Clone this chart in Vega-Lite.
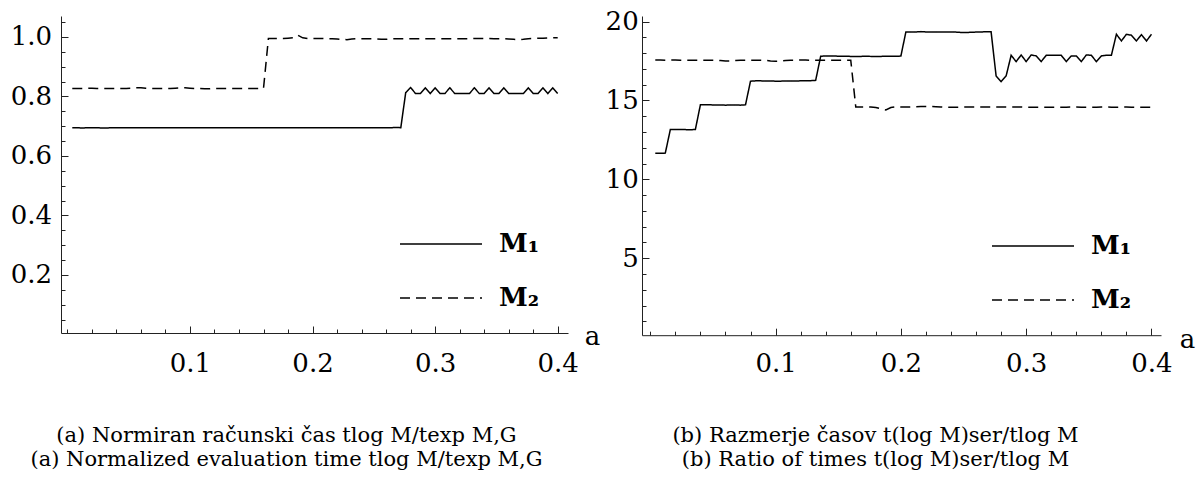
{
  "$schema": "https://vega.github.io/schema/vega-lite/v6.json",
  "background": "white",
  "padding": {"left": 10, "top": 8, "right": 2, "bottom": 2},
  "bounds": "flush",
  "spacing": 74,
  "config": {
    "view": {"stroke": null},
    "font": "DejaVu Serif",
    "axis": {
      "grid": false,
      "domainColor": "#222",
      "domainWidth": 1,
      "tickColor": "#222",
      "tickWidth": 1,
      "labelColor": "#000",
      "labelFont": "DejaVu Serif",
      "labelFontSize": 26,
      "labelFlush": false,
      "labelOverlap": false,
      "labelBound": false,
      "titleFont": "DejaVu Serif",
      "titleFontSize": 26,
      "titleFontWeight": "normal",
      "titleColor": "#000"
    },
    "legend": {
      "orient": "none",
      "title": null,
      "symbolType": "stroke",
      "symbolSize": 6724,
      "symbolStrokeWidth": 1.5,
      "symbolStrokeColor": "#000",
      "labelFont": "DejaVu Serif",
      "labelFontWeight": "bold",
      "labelFontSize": 26,
      "labelColor": "#000",
      "labelOffset": 16,
      "clipHeight": 30,
      "rowPadding": 24,
      "padding": 0
    },
    "title": {"font": "DejaVu Serif", "fontWeight": "normal", "fontSize": 21, "color": "#000"}
  },
  "resolve": {"scale": {"strokeDash": "independent"}, "legend": {"strokeDash": "independent"}},
  "datasets": {
    "left": [
      {"a":0.004,"M₁":0.695,"M₂":0.827},{"a":0.008,"M₁":0.695,"M₂":0.827},{"a":0.012,"M₁":0.694,"M₂":0.827},{"a":0.016,"M₁":0.695,"M₂":0.827},{"a":0.020,"M₁":0.695,"M₂":0.828},
      {"a":0.024,"M₁":0.695,"M₂":0.827},{"a":0.028,"M₁":0.694,"M₂":0.827},{"a":0.032,"M₁":0.694,"M₂":0.827},{"a":0.036,"M₁":0.695,"M₂":0.827},{"a":0.040,"M₁":0.695,"M₂":0.827},
      {"a":0.044,"M₁":0.695,"M₂":0.827},{"a":0.048,"M₁":0.695,"M₂":0.827},{"a":0.052,"M₁":0.695,"M₂":0.828},{"a":0.056,"M₁":0.695,"M₂":0.829},{"a":0.060,"M₁":0.695,"M₂":0.829},
      {"a":0.064,"M₁":0.695,"M₂":0.828},{"a":0.068,"M₁":0.695,"M₂":0.827},{"a":0.072,"M₁":0.695,"M₂":0.827},{"a":0.076,"M₁":0.695,"M₂":0.827},{"a":0.080,"M₁":0.695,"M₂":0.827},
      {"a":0.084,"M₁":0.695,"M₂":0.827},{"a":0.088,"M₁":0.695,"M₂":0.828},{"a":0.092,"M₁":0.695,"M₂":0.829},{"a":0.096,"M₁":0.695,"M₂":0.829},{"a":0.100,"M₁":0.695,"M₂":0.828},
      {"a":0.104,"M₁":0.695,"M₂":0.827},{"a":0.108,"M₁":0.695,"M₂":0.827},{"a":0.112,"M₁":0.695,"M₂":0.826},{"a":0.116,"M₁":0.695,"M₂":0.826},{"a":0.120,"M₁":0.695,"M₂":0.827},
      {"a":0.124,"M₁":0.695,"M₂":0.827},{"a":0.128,"M₁":0.695,"M₂":0.827},{"a":0.132,"M₁":0.695,"M₂":0.827},{"a":0.136,"M₁":0.695,"M₂":0.827},{"a":0.140,"M₁":0.695,"M₂":0.827},
      {"a":0.144,"M₁":0.695,"M₂":0.827},{"a":0.148,"M₁":0.695,"M₂":0.827},{"a":0.152,"M₁":0.695,"M₂":0.827},{"a":0.156,"M₁":0.695,"M₂":0.827},{"a":0.160,"M₁":0.695,"M₂":0.827},
      {"a":0.164,"M₁":0.695,"M₂":0.995},{"a":0.168,"M₁":0.695,"M₂":0.995},{"a":0.172,"M₁":0.695,"M₂":0.995},{"a":0.176,"M₁":0.695,"M₂":0.995},{"a":0.180,"M₁":0.695,"M₂":0.996},
      {"a":0.184,"M₁":0.695,"M₂":0.997},{"a":0.188,"M₁":0.695,"M₂":1.006},{"a":0.192,"M₁":0.695,"M₂":0.997},{"a":0.196,"M₁":0.695,"M₂":0.995},{"a":0.200,"M₁":0.695,"M₂":0.995},
      {"a":0.204,"M₁":0.695,"M₂":0.995},{"a":0.208,"M₁":0.695,"M₂":0.995},{"a":0.212,"M₁":0.695,"M₂":0.994},{"a":0.216,"M₁":0.695,"M₂":0.994},{"a":0.220,"M₁":0.695,"M₂":0.993},
      {"a":0.224,"M₁":0.695,"M₂":0.992},{"a":0.228,"M₁":0.695,"M₂":0.991},{"a":0.232,"M₁":0.695,"M₂":0.993},{"a":0.236,"M₁":0.695,"M₂":0.994},{"a":0.240,"M₁":0.695,"M₂":0.994},
      {"a":0.244,"M₁":0.695,"M₂":0.994},{"a":0.248,"M₁":0.695,"M₂":0.994},{"a":0.252,"M₁":0.695,"M₂":0.993},{"a":0.256,"M₁":0.695,"M₂":0.992},{"a":0.260,"M₁":0.695,"M₂":0.992},
      {"a":0.264,"M₁":0.695,"M₂":0.994},{"a":0.268,"M₁":0.696,"M₂":0.994},{"a":0.272,"M₁":0.695,"M₂":0.994},{"a":0.276,"M₁":0.813,"M₂":0.994},{"a":0.280,"M₁":0.830,"M₂":0.994},
      {"a":0.284,"M₁":0.810,"M₂":0.994},{"a":0.288,"M₁":0.810,"M₂":0.994},{"a":0.292,"M₁":0.829,"M₂":0.994},{"a":0.296,"M₁":0.810,"M₂":0.994},{"a":0.300,"M₁":0.829,"M₂":0.994},
      {"a":0.304,"M₁":0.810,"M₂":0.994},{"a":0.308,"M₁":0.810,"M₂":0.994},{"a":0.312,"M₁":0.829,"M₂":0.994},{"a":0.316,"M₁":0.810,"M₂":0.994},{"a":0.320,"M₁":0.810,"M₂":0.994},
      {"a":0.324,"M₁":0.810,"M₂":0.994},{"a":0.328,"M₁":0.810,"M₂":0.994},{"a":0.332,"M₁":0.829,"M₂":0.995},{"a":0.336,"M₁":0.810,"M₂":0.995},{"a":0.340,"M₁":0.810,"M₂":0.995},
      {"a":0.344,"M₁":0.829,"M₂":0.995},{"a":0.348,"M₁":0.810,"M₂":0.994},{"a":0.352,"M₁":0.810,"M₂":0.994},{"a":0.356,"M₁":0.829,"M₂":0.994},{"a":0.360,"M₁":0.810,"M₂":0.993},
      {"a":0.364,"M₁":0.810,"M₂":0.992},{"a":0.368,"M₁":0.810,"M₂":0.991},{"a":0.372,"M₁":0.810,"M₂":0.992},{"a":0.376,"M₁":0.829,"M₂":0.994},{"a":0.380,"M₁":0.810,"M₂":0.995},
      {"a":0.384,"M₁":0.810,"M₂":0.996},{"a":0.388,"M₁":0.829,"M₂":0.996},{"a":0.392,"M₁":0.810,"M₂":0.997},{"a":0.396,"M₁":0.829,"M₂":0.997},{"a":0.400,"M₁":0.810,"M₂":0.997}
    ],
    "right": [
      {"a":0.004,"M₁":11.65,"M₂":17.56},{"a":0.008,"M₁":11.65,"M₂":17.56},{"a":0.012,"M₁":11.66,"M₂":17.55},{"a":0.016,"M₁":13.15,"M₂":17.56},{"a":0.020,"M₁":13.16,"M₂":17.56},
      {"a":0.024,"M₁":13.15,"M₂":17.55},{"a":0.028,"M₁":13.15,"M₂":17.55},{"a":0.032,"M₁":13.14,"M₂":17.55},{"a":0.036,"M₁":13.16,"M₂":17.55},{"a":0.040,"M₁":14.72,"M₂":17.55},
      {"a":0.044,"M₁":14.73,"M₂":17.55},{"a":0.048,"M₁":14.72,"M₂":17.55},{"a":0.052,"M₁":14.71,"M₂":17.55},{"a":0.056,"M₁":14.71,"M₂":17.53},{"a":0.060,"M₁":14.70,"M₂":17.50},
      {"a":0.064,"M₁":14.71,"M₂":17.50},{"a":0.068,"M₁":14.71,"M₂":17.53},{"a":0.072,"M₁":14.70,"M₂":17.54},{"a":0.076,"M₁":14.72,"M₂":17.55},{"a":0.080,"M₁":16.22,"M₂":17.55},
      {"a":0.084,"M₁":16.24,"M₂":17.55},{"a":0.088,"M₁":16.24,"M₂":17.55},{"a":0.092,"M₁":16.23,"M₂":17.54},{"a":0.096,"M₁":16.23,"M₂":17.50},{"a":0.100,"M₁":16.22,"M₂":17.48},
      {"a":0.104,"M₁":16.22,"M₂":17.50},{"a":0.108,"M₁":16.23,"M₂":17.53},{"a":0.112,"M₁":16.23,"M₂":17.55},{"a":0.116,"M₁":16.23,"M₂":17.55},{"a":0.120,"M₁":16.24,"M₂":17.56},
      {"a":0.124,"M₁":16.24,"M₂":17.56},{"a":0.128,"M₁":16.25,"M₂":17.55},{"a":0.132,"M₁":16.27,"M₂":17.55},{"a":0.136,"M₁":17.80,"M₂":17.55},{"a":0.140,"M₁":17.82,"M₂":17.55},
      {"a":0.144,"M₁":17.82,"M₂":17.55},{"a":0.148,"M₁":17.81,"M₂":17.55},{"a":0.152,"M₁":17.80,"M₂":17.55},{"a":0.156,"M₁":17.80,"M₂":17.55},{"a":0.160,"M₁":17.79,"M₂":17.55},
      {"a":0.164,"M₁":17.79,"M₂":14.59},{"a":0.168,"M₁":17.79,"M₂":14.59},{"a":0.172,"M₁":17.80,"M₂":14.59},{"a":0.176,"M₁":17.79,"M₂":14.59},{"a":0.180,"M₁":17.79,"M₂":14.55},
      {"a":0.184,"M₁":17.79,"M₂":14.47},{"a":0.188,"M₁":17.80,"M₂":14.40},{"a":0.192,"M₁":17.80,"M₂":14.55},{"a":0.196,"M₁":17.80,"M₂":14.59},{"a":0.200,"M₁":17.81,"M₂":14.58},
      {"a":0.204,"M₁":19.34,"M₂":14.58},{"a":0.208,"M₁":19.34,"M₂":14.59},{"a":0.212,"M₁":19.34,"M₂":14.60},{"a":0.216,"M₁":19.36,"M₂":14.61},{"a":0.220,"M₁":19.34,"M₂":14.62},
      {"a":0.224,"M₁":19.34,"M₂":14.61},{"a":0.228,"M₁":19.33,"M₂":14.60},{"a":0.232,"M₁":19.33,"M₂":14.59},{"a":0.236,"M₁":19.33,"M₂":14.57},{"a":0.240,"M₁":19.33,"M₂":14.56},
      {"a":0.244,"M₁":19.33,"M₂":14.57},{"a":0.248,"M₁":19.31,"M₂":14.58},{"a":0.252,"M₁":19.30,"M₂":14.58},{"a":0.256,"M₁":19.32,"M₂":14.59},{"a":0.260,"M₁":19.33,"M₂":14.59},
      {"a":0.264,"M₁":19.34,"M₂":14.59},{"a":0.268,"M₁":19.35,"M₂":14.59},{"a":0.272,"M₁":19.35,"M₂":14.59},{"a":0.276,"M₁":16.55,"M₂":14.59},{"a":0.280,"M₁":16.19,"M₂":14.59},
      {"a":0.284,"M₁":16.55,"M₂":14.59},{"a":0.288,"M₁":17.86,"M₂":14.58},{"a":0.292,"M₁":17.46,"M₂":14.58},{"a":0.296,"M₁":17.88,"M₂":14.58},{"a":0.300,"M₁":17.46,"M₂":14.57},
      {"a":0.304,"M₁":17.88,"M₂":14.57},{"a":0.308,"M₁":17.82,"M₂":14.57},{"a":0.312,"M₁":17.46,"M₂":14.57},{"a":0.316,"M₁":17.86,"M₂":14.57},{"a":0.320,"M₁":17.86,"M₂":14.57},
      {"a":0.324,"M₁":17.86,"M₂":14.57},{"a":0.328,"M₁":17.86,"M₂":14.57},{"a":0.332,"M₁":17.46,"M₂":14.57},{"a":0.336,"M₁":17.82,"M₂":14.58},{"a":0.340,"M₁":17.82,"M₂":14.58},
      {"a":0.344,"M₁":17.46,"M₂":14.57},{"a":0.348,"M₁":17.88,"M₂":14.57},{"a":0.352,"M₁":17.86,"M₂":14.57},{"a":0.356,"M₁":17.46,"M₂":14.57},{"a":0.360,"M₁":17.82,"M₂":14.58},
      {"a":0.364,"M₁":17.86,"M₂":14.58},{"a":0.368,"M₁":17.86,"M₂":14.57},{"a":0.372,"M₁":19.19,"M₂":14.57},{"a":0.376,"M₁":18.77,"M₂":14.58},{"a":0.380,"M₁":19.19,"M₂":14.58},
      {"a":0.384,"M₁":19.13,"M₂":14.57},{"a":0.388,"M₁":18.77,"M₂":14.56},{"a":0.392,"M₁":19.17,"M₂":14.56},{"a":0.396,"M₁":18.77,"M₂":14.56},{"a":0.400,"M₁":19.19,"M₂":14.56}
    ]
  },
  "hconcat": [
    {
      "width": 507,
      "height": 317,
      "data": {"name": "left"},
      "transform": [{"fold": ["M₁", "M₂"], "as": ["series", "value"]}],
      "title": {
        "text": ["(a) Normiran računski čas tlog M/texp M,G", "(a) Normalized evaluation time tlog M/texp M,G"],
        "orient": "bottom", "anchor": "middle", "frame": "group", "dx": -28, "offset": 46, "baseline": "top", "lineHeight": 23.5
      },
      "mark": {"type": "line", "color": "#000", "strokeWidth": 1.5},
      "encoding": {
        "x": {
          "field": "a", "type": "quantitative",
          "scale": {"domain": [-0.0052, 0.4084], "nice": false, "zero": false},
          "axis": {
            "values": [0,0.02,0.04,0.06,0.08,0.1,0.12,0.14,0.16,0.18,0.2,0.22,0.24,0.26,0.28,0.3,0.32,0.34,0.36,0.38,0.4],
            "labelExpr": "(abs(datum.value*10-round(datum.value*10))<0.001 && datum.value>0.05) ? format(datum.value,'.1f') : ''",
            "tickSize": {"condition": {"test": "abs(datum.value*10-round(datum.value*10))<0.001 && datum.value>0.05", "value": -7}, "value": -4},
            "labelPadding": 24,
            "title": "a", "titleX": 531, "titleY": 11, "titleAlign": "center", "titleBaseline": "alphabetic", "titleAngle": 0
          }
        },
        "y": {
          "field": "value", "type": "quantitative",
          "scale": {"domain": [0.005, 1.0705], "nice": false, "zero": false},
          "axis": {
            "values": [0.05,0.1,0.15,0.2,0.25,0.3,0.35,0.4,0.45,0.5,0.55,0.6,0.65,0.7,0.75,0.8,0.85,0.9,0.95,1.0,1.05],
            "labelExpr": "abs(datum.value*5-round(datum.value*5))<0.001 ? format(datum.value,'.1f') : ''",
            "tickSize": {"condition": {"test": "abs(datum.value*5-round(datum.value*5))<0.001", "value": -7}, "value": -4},
            "labelPadding": 16.5,
            "title": null
          }
        },
        "strokeDash": {
          "field": "series", "type": "nominal",
          "scale": {"domain": ["M₁", "M₂"], "range": [[1, 0], [10, 6]]},
          "legend": {"legendX": 338, "legendY": 213}
        }
      }
    },
    {
      "width": 519,
      "height": 319.2,
      "data": {"name": "right"},
      "transform": [{"fold": ["M₁", "M₂"], "as": ["series", "value"]}],
      "title": {
        "text": ["(b) Razmerje časov t(log M)ser/tlog M", "(b) Ratio of times t(log M)ser/tlog M"],
        "orient": "bottom", "anchor": "middle", "frame": "group", "dx": -26, "offset": 46, "baseline": "top", "lineHeight": 23.5
      },
      "mark": {"type": "line", "color": "#000", "strokeWidth": 1.5},
      "encoding": {
        "x": {
          "field": "a", "type": "quantitative",
          "scale": {"domain": [-0.0066, 0.4076], "nice": false, "zero": false},
          "axis": {
            "values": [0,0.02,0.04,0.06,0.08,0.1,0.12,0.14,0.16,0.18,0.2,0.22,0.24,0.26,0.28,0.3,0.32,0.34,0.36,0.38,0.4],
            "labelExpr": "(abs(datum.value*10-round(datum.value*10))<0.001 && datum.value>0.05) ? format(datum.value,'.1f') : ''",
            "tickSize": {"condition": {"test": "abs(datum.value*10-round(datum.value*10))<0.001 && datum.value>0.05", "value": -7}, "value": -4},
            "labelPadding": 22,
            "title": "a", "titleX": 545, "titleY": 12.7, "titleAlign": "center", "titleBaseline": "alphabetic", "titleAngle": 0
          }
        },
        "y": {
          "field": "value", "type": "quantitative",
          "scale": {"domain": [0.12, 20.35], "nice": false, "zero": false},
          "axis": {
            "values": [1,2,3,4,5,6,7,8,9,10,11,12,13,14,15,16,17,18,19,20],
            "labelExpr": "datum.value % 5 == 0 ? format(datum.value,'d') : ''",
            "tickSize": {"condition": {"test": "datum.value % 5 == 0", "value": -7}, "value": -4},
            "labelPadding": 10.8,
            "title": null
          }
        },
        "strokeDash": {
          "field": "series", "type": "nominal",
          "scale": {"domain": ["M₁", "M₂"], "range": [[1, 0], [10, 6]]},
          "legend": {"legendX": 349, "legendY": 215}
        }
      }
    }
  ]
}
